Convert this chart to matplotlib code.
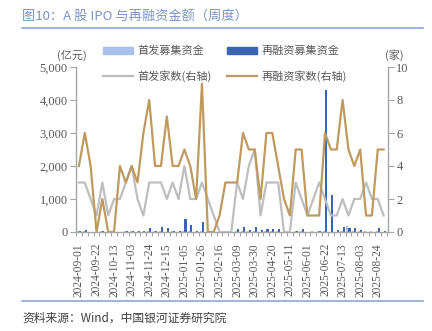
import matplotlib
matplotlib.use("Agg")
import matplotlib.pyplot as plt
from matplotlib.lines import Line2D
from matplotlib.patches import Patch
import numpy as np

plt.rcParams["font.family"] = ["Noto Sans CJK SC", "DejaVu Sans"]

# 周度数据 2024-09-01 ~ 2025-08-31 (53 周)
tick_labels = ["2024-09-01", "2024-09-22", "2024-10-13", "2024-11-03", "2024-11-24",
               "2024-12-15", "2025-01-05", "2025-01-26", "2025-02-16", "2025-03-09",
               "2025-03-30", "2025-04-20", "2025-05-11", "2025-06-01", "2025-06-22",
               "2025-07-13", "2025-08-03", "2025-08-24"]

ipo_amt = [25, 20, 15, 10, 20, 8, 15, 15, 20, 30, 15, 10, 20, 20,
           25, 15, 20, 15, 30, 20, 15, 25, 15, 10, 0, 0, 0,
           25, 20, 30, 40, 10, 25, 25, 30, 0, 0, 25, 20, 10, 20,
           25, 20, 10, 10, 25, 190, 25, 20, 30, 20, 25, 10]
refi_amt = [20, 55, 15, 10, 30, 10, 0, 15, 40, 35, 45, 40, 120, 35,
            160, 110, 30, 30, 380, 200, 20, 300, 0, 0, 0, 0, 0,
            80, 150, 60, 150, 60, 100, 100, 80, 0, 0, 40, 80, 10, 10,
            20, 4290, 1110, 70, 160, 120, 110, 70, 10, 0, 120, 40]
ipo_cnt = [3, 3, 2, 1, 3, 1, 2, 2, 3, 4, 2, 1, 3, 3,
           3, 2, 3, 2, 4, 2, 2, 3,
           2, 1, 0, 0, 0,
           3, 2, 4, 5, 1, 3, 3, 3, 0, 0, 3, 2, 1, 2,
           3, 2, 1, 1, 2, 1, 2, 2, 3, 2, 2, 1]
refi_cnt = [4, 6, 4, 0, 2, 0, 0, 4, 3, 4, 3, 6, 8, 4,
            4, 7, 4, 4, 5, 4, 2, 9,
            0, 0, 1, 3, 3, 3, 6, 5, 5, 2, 6, 6, 4, 2, 1, 5, 5, 1, 1, 1,
            6, 5, 5, 8, 5, 4, 5, 1, 1, 5, 5]

c_ipo_bar = "#A9C1E9"
c_refi_bar = "#3A64B4"
c_ipo_line = "#BEBEBE"
c_refi_line = "#BF9A5E"
c_axis = "#A6A6A6"
c_text = "#595959"
c_frame = "#8EA6D6"
num_font = ["Liberation Serif", "DejaVu Serif"]

fig = plt.figure(figsize=(4.32, 3.31), dpi=100)
ax = fig.add_axes([76 / 432, 1 - 232 / 331, 312 / 432, 165 / 331])

x = np.arange(len(refi_amt))
w = 0.36
ax.bar(x - w / 2, ipo_amt, width=w, color=c_ipo_bar, zorder=2)
ax.bar(x + w / 2, refi_amt, width=w, color=c_refi_bar, zorder=2)
ax.set_ylim(0, 5000)
ax.set_xlim(-0.5, len(x) - 0.25)
ax.set_yticks(range(0, 5001, 1000))
ax.set_yticklabels([f"{v:,}" for v in range(0, 5001, 1000)], family=num_font,
                   fontsize=9, color=c_text)

ax.set_xticks(np.arange(0, len(x), 3))
ax.set_xticklabels(tick_labels, rotation=90, family=num_font, fontsize=8.3,
                   color=c_text)
ax.set_xticks(np.arange(-0.5, len(x), 1), minor=True)
ax.tick_params(axis="x", which="major", length=0, pad=8)
ax.tick_params(axis="x", which="minor", length=3, color=c_axis, width=0.8)
ax.tick_params(axis="y", length=4, color=c_axis, width=0.8, pad=2)

for side in ["top", "right"]:
    ax.spines[side].set_visible(False)
for side in ["left", "bottom"]:
    ax.spines[side].set_color(c_axis)
    ax.spines[side].set_linewidth(1.0)

ax2 = ax.twinx()
ax2.plot(x, ipo_cnt, color=c_ipo_line, lw=1.6, zorder=3)
ax2.plot(x, refi_cnt, color=c_refi_line, lw=1.6, zorder=4)
ax2.set_ylim(0, 10)
ax2.set_yticks(range(0, 11, 2))
ax2.set_yticklabels([str(v) for v in range(0, 11, 2)], family=num_font,
                    fontsize=9, color=c_text)
ax2.tick_params(axis="y", length=4, color=c_axis, width=0.8, pad=2)
for side in ["top", "left", "bottom"]:
    ax2.spines[side].set_visible(False)
ax2.spines["right"].set_color(c_axis)
ax2.spines["right"].set_linewidth(1.0)

fig.text(72 / 432, 1 - 55 / 331, "(亿元)", fontsize=8, color=c_text,
         ha="center", va="center")
fig.text(394 / 432, 1 - 55 / 331, "(家)", fontsize=8, color=c_text,
         ha="center", va="center")

handles = [Patch(color=c_ipo_bar), Line2D([], [], color=c_ipo_line, lw=1.6),
           Patch(color=c_refi_bar), Line2D([], [], color=c_refi_line, lw=1.6)]
labels = ["首发募集资金", "首发家数(右轴)", "再融资募集资金", "再融资家数(右轴)"]
fig.legend(handles, labels, loc="upper left", bbox_to_anchor=(97 / 432, 1 - 40 / 331),
           ncol=2, frameon=False, fontsize=8, handlelength=2.7, handleheight=0.6,
           handletextpad=0.4, columnspacing=1.4, labelspacing=1.3,
           labelcolor=c_text, borderpad=0)

fig.text(22 / 432, 1 - 17 / 331, "图10：A 股 IPO 与再融资金额（周度）", fontsize=9.5,
         color="#7C93C6", ha="left", va="center")
fig.add_artist(Line2D([22 / 432, 423 / 432], [1 - 27.5 / 331] * 2, color=c_frame, lw=1.2))
fig.add_artist(Line2D([22 / 432, 423 / 432], [1 - 301 / 331] * 2, color=c_frame, lw=1.2))
fig.text(22 / 432, 1 - 318 / 331, "资料来源：Wind，中国银河证券研究院", fontsize=8.5,
         color="#404040", ha="left", va="center", style="italic")

fig.savefig("out.png", dpi=100)
plt.close(fig)
